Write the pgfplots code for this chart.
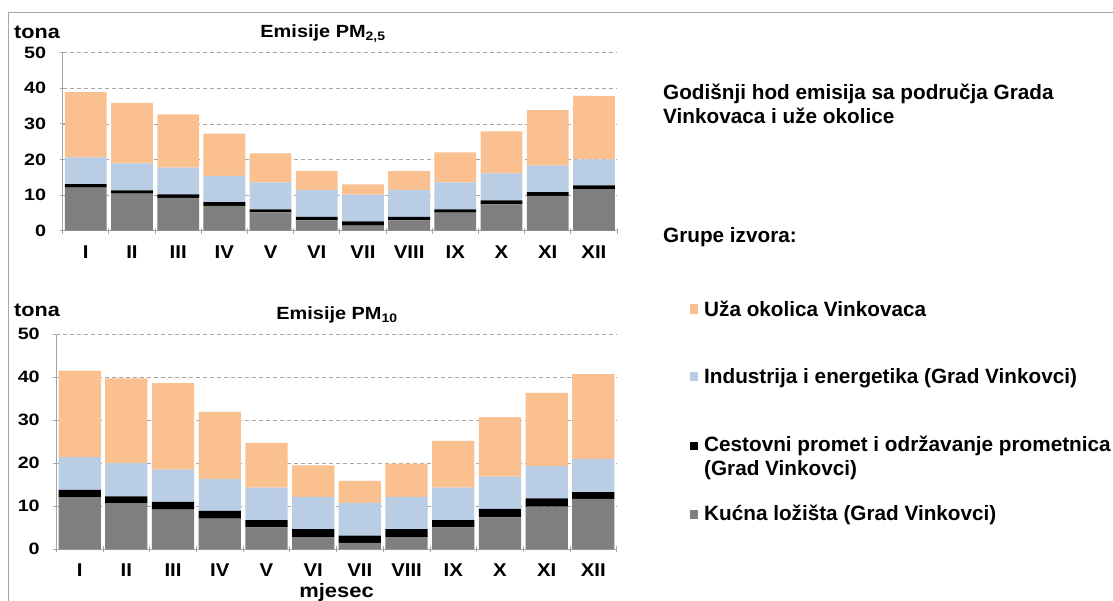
\documentclass[border=0pt]{standalone}
\usepackage{pgfplots}
\usepackage{pgfplotstable}
\pgfplotsset{compat=1.18}
\usepackage{fontspec}
\setmainfont{Liberation Sans}
\newfontfamily\chartfont{Liberation Sans}[FakeStretch=1.13]
\newfontfamily\chartfontY{Liberation Sans}[FakeStretch=1.2]
\newfontfamily\chartfontX{Liberation Sans}[FakeStretch=1.1]
\definecolor{cUza}{HTML}{FAC090}
\definecolor{cInd}{HTML}{B9CDE5}
\definecolor{cKuc}{HTML}{7F7F7F}
\definecolor{cFrame}{HTML}{A6A6A6}

% x k=Kucna lozista, c=Cestovni promet, i=Industrija, u=Uza okolica
\pgfplotstableread{
x k c i u
0 12.1 1.0 7.5 18.3
1 10.4 0.9 7.6 16.9
2 9.2 1.0 7.5 15.0
3 7.0 1.05 7.35 11.9
4 5.15 0.85 7.6 8.1
5 2.9 0.95 7.6 5.3
6 1.4 1.2 7.5 2.9
7 2.9 0.95 7.6 5.3
8 5.1 0.9 7.6 8.4
9 7.4 1.1 7.6 11.8
10 9.8 1.0 7.5 15.6
11 11.7 1.0 7.3 17.9
}\pmA

\pgfplotstableread{
x k c i u
0 12.1 1.7 7.6 20.1
1 10.7 1.6 7.7 19.7
2 9.2 1.8 7.5 20.1
3 7.1 1.8 7.4 15.6
4 5.1 1.7 7.5 10.4
5 2.8 1.9 7.5 7.3
6 1.5 1.7 7.6 5.1
7 2.8 1.9 7.5 7.7
8 5.1 1.7 7.5 10.9
9 7.4 2.0 7.5 13.8
10 9.9 1.9 7.5 17.0
11 11.7 1.6 7.7 19.7
}\pmB

\pgfplotsset{
 emis/.style={
  scale only axis, ybar stacked, bar width=0.905,
  xmin=-0.5, xmax=11.5, ymin=0, ymax=50,
  ytick={0,10,...,50},
  xtick={0,...,11},
  xticklabels={I,II,III,IV,V,VI,VII,VIII,IX,X,XI,XII},
  minor xtick={-0.5,0.5,...,11.5},
  major tick length=6bp, minor tick length=6bp,
  tick align=outside,
  tick style={cFrame, line width=0.8bp},
  major x tick style={draw=none},
  every minor tick/.append style={cFrame, line width=0.8bp},
  axis x line=bottom, axis y line=left,
  axis line style={-, draw=cFrame, line width=0.8bp},
  ymajorgrids, grid style={cFrame, line width=0.6bp, dash pattern=on 4bp off 3bp},
  ticklabel style={inner sep=0pt},
  xticklabel style={font=\chartfontX\bfseries\fontsize{18.6}{18.6}\selectfont, anchor=center, yshift=-18bp},
  yticklabel style={font=\chartfontY\bfseries\fontsize{16.5}{16.5}\selectfont, anchor=east, xshift=-13.4bp},
  /pgf/number format/assume math mode=true,
 }
}

\begin{document}
\begin{tikzpicture}
\path[use as bounding box] (0,0) rectangle (1113bp,601bp);
\draw[cFrame, line width=1bp] (8.3bp,0) -- (8.3bp,588.7bp) -- (1120bp,588.7bp);

\begin{axis}[emis, at={(62.7bp,370.3bp)}, anchor=south west, width=554.3bp, height=178bp]
\addplot[fill=cKuc, draw=none] table[x=x,y=k] {\pmA};
\addplot[fill=black, draw=none] table[x=x,y=c] {\pmA};
\addplot[fill=cInd, draw=none] table[x=x,y=i] {\pmA};
\addplot[fill=cUza, draw=none] table[x=x,y=u] {\pmA};
\end{axis}

\begin{axis}[emis, at={(56.3bp,51.7bp)}, anchor=south west, width=560.4bp, height=215.3bp]
\addplot[fill=cKuc, draw=none] table[x=x,y=k] {\pmB};
\addplot[fill=black, draw=none] table[x=x,y=c] {\pmB};
\addplot[fill=cInd, draw=none] table[x=x,y=i] {\pmB};
\addplot[fill=cUza, draw=none] table[x=x,y=u] {\pmB};
\end{axis}

\begin{scope}[every node/.style={inner sep=0pt, font=\chartfont\bfseries\fontsize{17.7}{18}\selectfont}]
\node[anchor=base west] at (14bp,562bp) {\fontsize{19.2}{19}\selectfont tona};
\node[anchor=base west] at (14bp,284.5bp) {\fontsize{19.2}{19}\selectfont tona};
\node[anchor=base] at (323bp,563.3bp) {Emisije PM\textsubscript{2,5}};
\node[anchor=base] at (337bp,281.6bp) {Emisije PM\textsubscript{10}};
\node[anchor=base] at (336.5bp,4bp) {\fontsize{19.5}{19}\selectfont mjesec};
\end{scope}

\begin{scope}[every node/.style={inner sep=0pt, anchor=base west, font=\bfseries\fontsize{20.8}{24}\selectfont}]
\node at (663bp,501bp) {Godišnji hod emisija sa područja Grada};
\node at (663bp,477bp) {Vinkovaca i uže okolice};
\node at (663bp,358bp) {Grupe izvora:};
\fill[cUza] (690bp,287bp) rectangle (698bp,297bp);
\node at (704bp,284.5bp) {Uža okolica Vinkovaca};
\fill[cInd] (690bp,219.5bp) rectangle (698bp,229bp);
\node at (704bp,217.5bp) {Industrija i energetika (Grad Vinkovci)};
\fill[black] (690bp,150.5bp) rectangle (698bp,159bp);
\node at (704bp,149bp) {Cestovni promet i održavanje prometnica};
\node at (704bp,125bp) {(Grad Vinkovci)};
\fill[cKuc] (690bp,81.5bp) rectangle (698bp,90.5bp);
\node at (704bp,80bp) {Kućna ložišta (Grad Vinkovci)};
\end{scope}
\end{tikzpicture}
\end{document}
